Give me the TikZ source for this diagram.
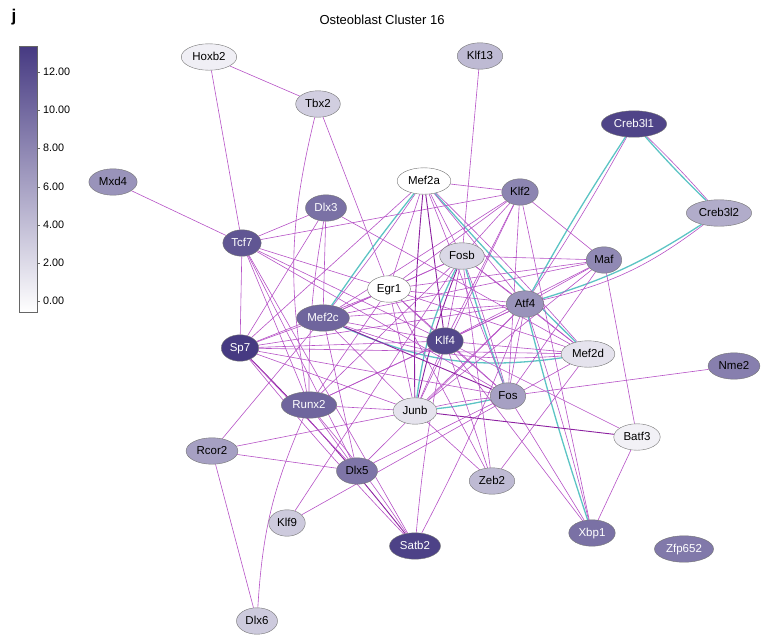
\documentclass[tikz,border=0pt]{standalone}
\usepackage{fontspec}
\setmainfont{Liberation Sans}
\usetikzlibrary{shapes.geometric,backgrounds}
\definecolor{cb}{RGB}{70,58,130}
\definecolor{edgec}{RGB}{182,82,198}
\definecolor{edged}{RGB}{140,32,160}
\definecolor{tealc}{RGB}{92,196,196}
\begin{document}
\begin{tikzpicture}[x=1pt,y=-1pt,
  gn/.style={ellipse, draw=black!55, line width=0.4pt, inner xsep=3pt, inner ysep=3.9pt,
     text height=8.5pt, text depth=2.4pt, font=\fontsize{11.5}{13}\selectfont, text=black},
  wt/.style={text=white},
  ed/.style={draw=edgec, line width=0.6pt},
  edk/.style={draw=edged, line width=0.9pt},
  tl/.style={draw=tealc, line width=1.3pt}]
\useasboundingbox (0,0) rectangle (761,635);
% title and panel letter
\node[font=\fontsize{17}{18}\selectfont\bfseries] (lbl) at (14,17) {j};
\node[font=\fontsize{13}{15}\selectfont] (title) at (382,20) {Osteoblast Cluster 16};
% colour bar
\shade[top color=cb, bottom color=white] (19,46) rectangle (37,312);
\draw[black!60, line width=0.5pt] (19,46) rectangle (37,312);
\foreach \y/\t in {72/12.00,110/10.00,148/8.00,187/6.00,225/4.00,263/2.00,301/0.00}{
  \draw[black!60, line width=0.5pt] (37,\y) -- (40,\y);
  \node[anchor=west, font=\fontsize{10.8}{12}\selectfont, inner sep=1pt] at (42,\y) {\t};
}
% nodes
\node[gn, fill=cb!8!white] (hox) at (209,57) {Hoxb2};
\node[gn, fill=cb!35!white] (klf13) at (480,56) {Klf13};
\node[gn, fill=cb!25!white] (tbx2) at (318,104) {Tbx2};
\node[gn, fill=cb!55!white] (mxd4) at (113,182) {Mxd4};
\node[gn, wt, fill=cb!95!white] (creb1) at (634,124) {Creb3l1};
\node[gn, fill=white] (mef2a) at (424,181) {Mef2a};
\node[gn, fill=cb!62!white] (klf2) at (520,192) {Klf2};
\node[gn, wt, fill=cb!72!white] (dlx3) at (326,208) {Dlx3};
\node[gn, fill=cb!42!white] (creb2) at (719,213) {Creb3l2};
\node[gn, wt, fill=cb!86!white] (tcf7) at (242,243) {Tcf7};
\node[gn, fill=cb!20!white] (fosb) at (462,256) {Fosb};
\node[gn, fill=cb!60!white] (maf) at (604,260) {Maf};
\node[gn, fill=white] (egr1) at (389,289) {Egr1};
\node[gn, fill=cb!55!white] (atf4) at (525,304) {Atf4};
\node[gn, wt, fill=cb!78!white] (mef2c) at (323,318) {Mef2c};
\node[gn, wt, fill=cb!93!white] (klf4) at (445,341) {Klf4};
\node[gn, wt, fill=cb!100!white] (sp7) at (240,348) {Sp7};
\node[gn, fill=cb!14!white] (mef2d) at (588,354) {Mef2d};
\node[gn, fill=cb!65!white] (nme2) at (734,366) {Nme2};
\node[gn, fill=cb!48!white] (fos) at (508,396) {Fos};
\node[gn, wt, fill=cb!78!white] (runx2) at (309,405) {Runx2};
\node[gn, fill=cb!14!white] (junb) at (415,411) {Junb};
\node[gn, fill=cb!7!white] (batf3) at (637,437) {Batf3};
\node[gn, fill=cb!48!white] (rcor2) at (212,451) {Rcor2};
\node[gn, fill=cb!70!white] (dlx5) at (357,471) {Dlx5};
\node[gn, fill=cb!35!white] (zeb2) at (492,481) {Zeb2};
\node[gn, fill=cb!27!white] (klf9) at (287,523) {Klf9};
\node[gn, wt, fill=cb!72!white] (xbp1) at (592,533) {Xbp1};
\node[gn, wt, fill=cb!96!white] (satb2) at (415,546) {Satb2};
\node[gn, wt, fill=cb!68!white] (zfp) at (684,549) {Zfp652};
\node[gn, fill=cb!27!white] (dlx6) at (257,621) {Dlx6};
% edges
\begin{scope}[on background layer]
\draw[ed] (hox) -- (tbx2);
\draw[ed] (hox) -- (tcf7);
\draw[ed] (mxd4) -- (tcf7);
\draw[ed] (tbx2) -- (egr1);
\draw[ed] (tbx2) to[bend right=12] (runx2);
\draw[ed] (klf13) -- (fosb);
% paired (teal) edges
\draw[ed] (creb1) to[bend left=2] (creb2);
\draw[tl] (creb1) to[bend right=2] (creb2);
\draw[ed] (creb1) to[bend left=2] (atf4);
\draw[tl] (creb1) to[bend right=2] (atf4);
\draw[ed] (creb2) to[bend left=12] (atf4);
\draw[tl] (creb2) to[bend left=8] (atf4);
\draw[ed] (mef2a) to[bend left=2] (mef2c);
\draw[tl] (mef2a) to[bend right=2] (mef2c);
\draw[ed] (mef2a) to[bend left=2] (mef2d);
\draw[tl] (mef2a) to[bend right=2] (mef2d);
\draw[ed] (mef2c) to[bend right=12] (mef2d);
\draw[tl] (mef2c) to[bend right=16] (mef2d);
\draw[edk] (fosb) to[bend right=4] (junb);
\draw[tl] (fosb) to[bend right=9] (junb);
\draw[ed] (fosb) to[bend left=2] (fos);
\draw[tl] (fosb) to[bend right=2] (fos);
\draw[ed] (junb) to[bend left=3] (fos);
\draw[tl] (junb) to[bend right=3] (fos);
\draw[ed] (atf4) to[bend left=2] (xbp1);
\draw[tl] (atf4) to[bend right=2] (xbp1);
% Mef2a
\draw[ed] (mef2a) -- (klf2);
\draw[ed] (mef2a) -- (fosb);
\draw[edk] (mef2a) -- (klf4);
\draw[edk] (mef2a) to[bend right=3] (junb);
\draw[ed] (mef2a) -- (fos);
\draw[ed] (mef2a) -- (atf4);
\draw[ed] (mef2a) -- (sp7);
\draw[ed] (mef2a) -- (egr1);
% Klf2
\draw[ed] (klf2) -- (tcf7);
\draw[ed] (klf2) -- (fosb);
\draw[ed] (klf2) -- (maf);
\draw[ed] (klf2) -- (klf4);
\draw[ed] (klf2) -- (junb);
\draw[ed] (klf2) -- (fos);
\draw[ed] (klf2) -- (egr1);
\draw[ed] (klf2) -- (mef2c);
\draw[ed] (klf2) -- (xbp1);
% Dlx3
\draw[ed] (dlx3) -- (tcf7);
\draw[ed] (dlx3) -- (sp7);
\draw[ed] (dlx3) to[bend right=5] (runx2);
\draw[ed] (dlx3) -- (mef2c);
\draw[ed] (dlx3) -- (mef2d);
% Tcf7
\draw[ed] (tcf7) -- (sp7);
\draw[ed] (tcf7) -- (egr1);
\draw[ed] (tcf7) -- (klf4);
\draw[ed] (tcf7) -- (runx2);
\draw[ed] (tcf7) -- (dlx5);
\draw[ed] (tcf7) -- (fos);
\draw[ed] (tcf7) -- (satb2);
% Fosb
\draw[ed] (fosb) -- (maf);
\draw[ed] (fosb) -- (egr1);
\draw[ed] (fosb) -- (atf4);
\draw[ed] (fosb) -- (klf4);
\draw[ed] (fosb) -- (mef2d);
\draw[ed] (fosb) -- (runx2);
\draw[ed] (fosb) -- (mef2c);
\draw[ed] (fosb) -- (zeb2);
% Maf
\draw[ed] (maf) -- (atf4);
\draw[ed] (maf) -- (egr1);
\draw[ed] (maf) -- (klf4);
\draw[ed] (maf) -- (batf3);
\draw[ed] (maf) -- (fos);
\draw[ed] (maf) -- (junb);
\draw[ed] (maf) -- (mef2c);
% Egr1
\draw[ed] (egr1) -- (mef2c);
\draw[ed] (egr1) -- (klf4);
\draw[ed] (egr1) -- (fos);
\draw[ed] (egr1) -- (junb);
\draw[ed] (egr1) -- (mef2d);
\draw[ed] (egr1) -- (runx2);
\draw[ed] (egr1) -- (sp7);
\draw[ed] (egr1) -- (atf4);
\draw[ed] (egr1) -- (zeb2);
% Atf4
\draw[ed] (atf4) -- (klf4);
\draw[ed] (atf4) -- (mef2c);
\draw[ed] (atf4) -- (junb);
\draw[ed] (atf4) -- (fos);
\draw[ed] (atf4) -- (mef2d);
\draw[ed] (atf4) -- (sp7);
\draw[ed] (atf4) -- (runx2);
\draw[ed] (atf4) to[bend left=3] (satb2);
\draw[ed] (atf4) -- (dlx5);
% Mef2c
\draw[ed] (mef2c) -- (klf4);
\draw[ed] (mef2c) -- (sp7);
\draw[ed] (mef2c) -- (rcor2);
\draw[edk] (mef2c) -- (fos);
\draw[ed] (mef2c) -- (junb);
% Klf4
\draw[ed] (klf4) -- (sp7);
\draw[ed] (klf4) -- (runx2);
\draw[ed] (klf4) -- (junb);
\draw[ed] (klf4) -- (fos);
\draw[ed] (klf4) -- (mef2d);
\draw[ed] (klf4) -- (zeb2);
\draw[ed] (klf4) -- (xbp1);
\draw[ed] (klf4) to[bend right=3] (satb2);
\draw[ed] (klf4) -- (batf3);
% Sp7
\draw[edk] (sp7) to[bend left=3] (satb2);
\draw[ed] (sp7) to[bend right=2] (satb2);
\draw[ed] (sp7) -- (dlx5);
\draw[ed] (sp7) -- (junb);
\draw[ed] (sp7) -- (fos);
\draw[ed] (sp7) -- (mef2d);
% Runx2
\draw[ed] (runx2) -- (junb);
\draw[ed] (runx2) -- (dlx5);
\draw[ed] (runx2) to[bend left=3] (satb2);
\draw[ed] (runx2) to[bend right=10] (dlx6);
% Rcor2
\draw[ed] (rcor2) -- (junb);
\draw[ed] (rcor2) -- (dlx5);
\draw[ed] (rcor2) -- (dlx6);
% Dlx5
\draw[ed] (dlx5) -- (fos);
\draw[ed] (dlx5) -- (mef2c);
% Klf9
\draw[ed] (klf9) -- (fosb);
\draw[ed] (klf9) -- (mef2d);
% Zeb2
\draw[ed] (zeb2) -- (mef2d);
\draw[ed] (zeb2) -- (junb);
% Xbp1, Batf3, Nme2
\draw[ed] (xbp1) -- (batf3);
\draw[ed] (xbp1) -- (fos);
\draw[edk] (batf3) -- (junb);
\draw[ed] (nme2) -- (fos);
\end{scope}
\end{tikzpicture}
\end{document}
